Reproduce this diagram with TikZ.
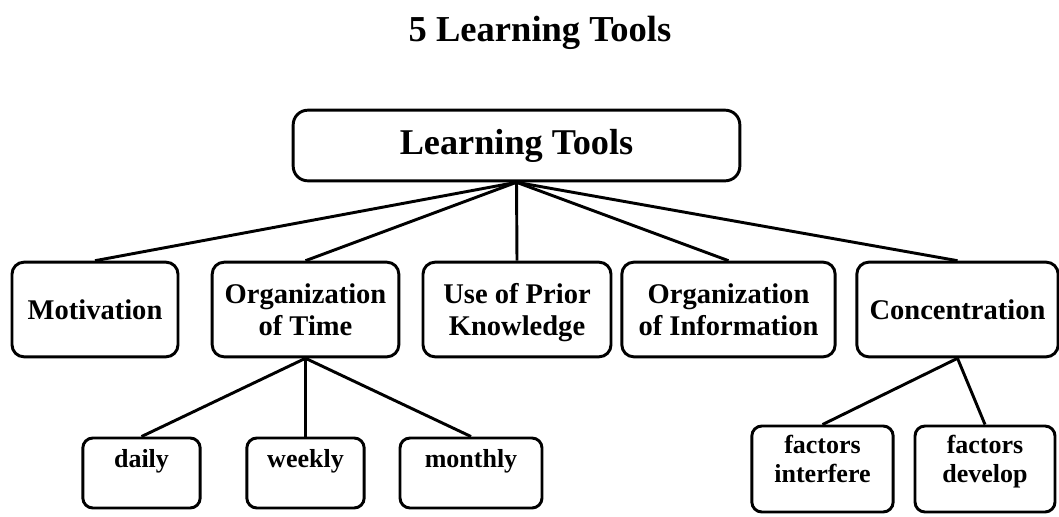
\documentclass[tikz,border=0pt]{standalone}
\usepackage{fontspec}
\setmainfont{Liberation Serif}
\def\toolrow{309.5}

\begin{document}
\begin{tikzpicture}[draw=black,line width=2.2pt,x=0.75pt,y=-0.75pt]
  \tikzstyle{head}=[font=\fontsize{27.4}{30}\selectfont\bfseries,anchor=base]
  \tikzstyle{root}=[draw,rounded corners=11pt,minimum width=335pt,minimum height=53pt,font=\fontsize{27.2}{30}\selectfont\bfseries]
  \tikzstyle{tool}=[draw,rounded corners=9pt,minimum height=71pt,align=center,inner sep=0pt,text depth=0pt,font=\fontsize{21.4}{24}\selectfont\bfseries]
  \tikzstyle{sub}=[draw,rounded corners=7.5pt,align=center,inner sep=0pt,font=\fontsize{19.5}{22}\selectfont\bfseries]

  \useasboundingbox (0,0) rectangle (1059,517);

  \node[head] (title) at (540,42) {5 Learning Tools};
  \node[root] (LT) at (516.5,145.5) {Learning Tools};

  % the five tools
  \foreach \name / \x / \w / \txt in {1/95/124.5pt/Motivation,
      2/305.5/140pt/{Organization\\of Time},
      3/517/141pt/{Use of Prior\\Knowledge},
      4/728.5/160pt/{Organization\\of Information},
      5/957.5/151pt/Concentration}
    \node[tool,minimum width=\w] (T-\name) at (\x,\toolrow) {\txt};

  % time splits
  \foreach \name / \x / \w / \txt in {1/141.5/88pt/daily,2/305.5/88pt/weekly,3/471/106.5pt/monthly}
    \node[sub,minimum width=\w,minimum height=52.5pt,text depth=22pt] (OT-\name) at (\x,473) {\txt};

  % concentration splits
  \node[sub,minimum width=106pt,minimum height=64.5pt,text depth=14.8pt] (C-1) at (822.5,469) {factors\\interfere};
  \node[sub,minimum width=105pt,minimum height=64.5pt,text depth=14.8pt] (C-2) at (985,469) {factors\\develop};

  \foreach \dest in {1,...,5}
    \path (LT.south) edge (T-\dest.north);

  \foreach \dest in {1,...,3}
    \path (T-2.south) edge (OT-\dest.north);

  \foreach \dest in {1,2}
    \path (T-5.south) edge (C-\dest.north);

\end{tikzpicture}
\end{document}
